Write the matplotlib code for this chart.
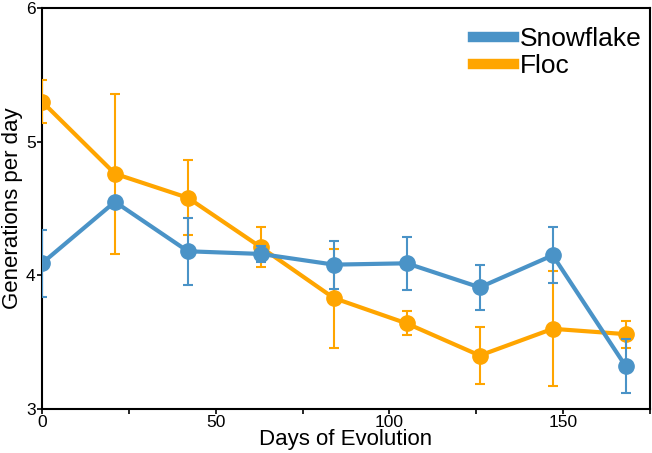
import matplotlib
matplotlib.use("Agg")
import matplotlib.pyplot as plt
from matplotlib.lines import Line2D

plt.rcParams['font.family'] = ['Liberation Sans', 'DejaVu Sans']

days = [0, 21, 42, 63, 84, 105, 126, 147, 168]

snow_mean = [4.09, 4.55, 4.18, 4.16, 4.08, 4.09, 3.91, 4.15, 3.32]
snow_err = [0.25, 0.03, 0.25, 0.06, 0.18, 0.20, 0.17, 0.21, 0.20]

floc_mean = [5.30, 4.76, 4.58, 4.21, 3.83, 3.64, 3.40, 3.60, 3.56]
floc_err = [0.16, 0.60, 0.28, 0.15, 0.37, 0.09, 0.21, 0.43, 0.10]

blue = '#4a93c7'
orange = '#ffa500'

fig = plt.figure(figsize=(6.52, 4.53), dpi=100)
ax = fig.add_axes([42 / 652, 44 / 453, 608 / 652, 401 / 453])

ax.errorbar(days, floc_mean, yerr=floc_err, color=orange, lw=3, marker='o', ms=11,
            elinewidth=1.5, capsize=3.5, capthick=1.5, zorder=3)
ax.errorbar(days, snow_mean, yerr=snow_err, color=blue, lw=3, marker='o', ms=11,
            elinewidth=1.5, capsize=3.5, capthick=1.5, zorder=4)

ax.set_xlim(0, 175)
ax.set_ylim(3, 6)
ax.set_xticks([0, 50, 100, 150])
ax.set_xticks([25, 75, 125, 175], minor=True)
ax.set_yticks([3, 4, 5, 6])
ax.tick_params(which='both', direction='out', length=3.5, width=1.2, labelsize=12.5, pad=1)
for s in ax.spines.values():
    s.set_linewidth(1.5)

ax.set_xlabel('Days of Evolution', fontsize=16, labelpad=-1)
ax.set_ylabel('Generations per day', fontsize=16, labelpad=2)

handles = [Line2D([], [], color=blue, lw=7.5), Line2D([], [], color=orange, lw=7.5)]
ax.legend(handles, ['Snowflake', 'Floc'], loc='upper right', bbox_to_anchor=(1.0, 0.972),
          frameon=False, fontsize=19, handlelength=1.55, handletextpad=0.23,
          labelspacing=0.12, borderaxespad=0, borderpad=0.3)

fig.savefig('out.png', dpi=100)
